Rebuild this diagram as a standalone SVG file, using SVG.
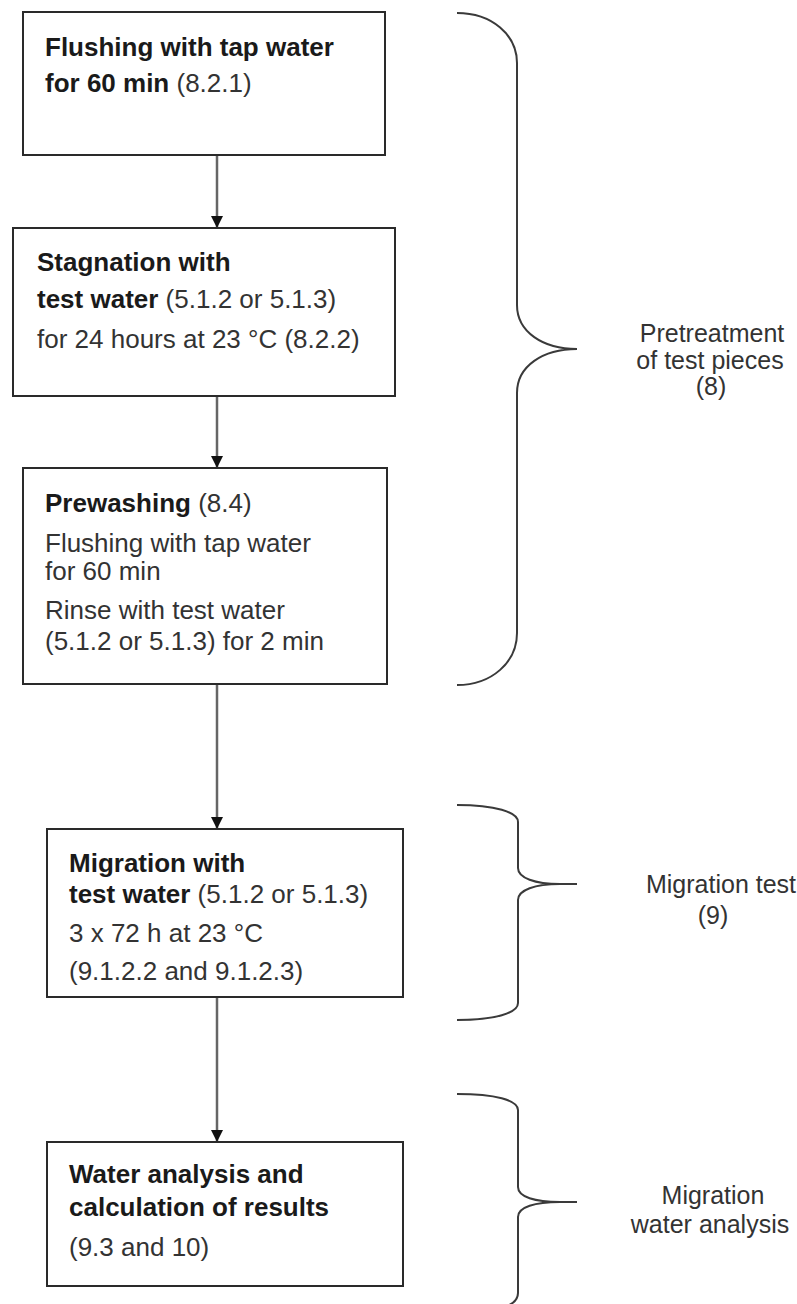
<svg xmlns="http://www.w3.org/2000/svg" width="797" height="1304" viewBox="0 0 797 1304">
<style>
.box{fill:#fff;stroke:#2a2a2a;stroke-width:2}
.t{font-family:"Liberation Sans",Arial,sans-serif;font-size:26px;fill:#333}
.b{font-weight:bold;fill:#1a1a1a}
.lab{font-family:"Liberation Sans",Arial,sans-serif;font-size:25px;fill:#333;text-anchor:middle}
.conn{stroke:#666;stroke-width:2.5;fill:none}
.brace{stroke:#3a3a3a;stroke-width:2;fill:none}
</style>
<defs>
<marker id="ah" viewBox="0 0 12 15" refX="12" refY="6" markerWidth="12" markerHeight="15" orient="auto" markerUnits="userSpaceOnUse">
<path d="M0,0 L12,6 L0,12 Z" fill="#111"/>
</marker>
</defs>
<rect width="797" height="1304" fill="#fff"/>
<g id="connectors">
<line class="conn" x1="217" y1="155" x2="217" y2="228" marker-end="url(#ah)"/>
<line class="conn" x1="217" y1="396" x2="217" y2="468" marker-end="url(#ah)"/>
<line class="conn" x1="217" y1="684" x2="217" y2="829" marker-end="url(#ah)"/>
<line class="conn" x1="217" y1="997" x2="217" y2="1142" marker-end="url(#ah)"/>
</g>
<g id="node1">
<rect class="box" x="23" y="12" width="362" height="143"/>
<text class="t b" x="45" y="56">Flushing with tap water</text>
<text class="t" x="45" y="92"><tspan class="b">for 60 min</tspan> (8.2.1)</text>
</g>
<g id="node2">
<rect class="box" x="13" y="228" width="382" height="168"/>
<text class="t b" x="37" y="271">Stagnation with</text>
<text class="t" x="37" y="308"><tspan class="b">test water</tspan> (5.1.2 or 5.1.3)</text>
<text class="t" x="37" y="348">for 24 hours at 23 °C (8.2.2)</text>
</g>
<g id="node3">
<rect class="box" x="23" y="468" width="364" height="216"/>
<text class="t" x="45" y="512"><tspan class="b">Prewashing</tspan> (8.4)</text>
<text class="t" x="45" y="552">Flushing with tap water</text>
<text class="t" x="45" y="580">for 60 min</text>
<text class="t" x="45" y="619">Rinse with test water</text>
<text class="t" x="45" y="650">(5.1.2 or 5.1.3) for 2 min</text>
</g>
<g id="node4">
<rect class="box" x="47" y="829" width="356" height="168"/>
<text class="t b" x="69" y="872">Migration with</text>
<text class="t" x="69" y="903"><tspan class="b">test water</tspan> (5.1.2 or 5.1.3)</text>
<text class="t" x="69" y="942">3 x 72 h at 23 °C</text>
<text class="t" x="69" y="980">(9.1.2.2 and 9.1.2.3)</text>
</g>
<g id="node5">
<rect class="box" x="47" y="1142" width="356" height="144"/>
<text class="t b" x="69" y="1183">Water analysis and</text>
<text class="t b" x="69" y="1216">calculation of results</text>
<text class="t" x="69" y="1256">(9.3 and 10)</text>
</g>
<g id="brace1">
<path class="brace" d="M457,13 C492,13 517,35 517,63 L517,305 C517,332 543,349 577,349 C543,349 517,366 517,393 L517,633 C517,662 492,685 457,685"/>
<text class="lab" x="712" y="342">Pretreatment</text>
<text class="lab" x="710" y="369">of test pieces</text>
<text class="lab" x="711" y="395">(8)</text>
</g>
<g id="brace2">
<path class="brace" d="M457,805 C495,805 518,812 518,822 L518,868 C518,878 535,884 560,884 L577,884 M560,884 C535,884 518,890 518,900 L518,1003 C518,1013 495,1020 457,1020"/>
<text class="lab" x="721" y="893">Migration test</text>
<text class="lab" x="713" y="924">(9)</text>
</g>
<g id="brace3">
<path class="brace" d="M457,1094 C495,1094 518,1100 518,1110 L518,1187 C518,1197 535,1202 560,1202 L577,1202 M560,1202 C535,1202 518,1207 518,1217 L518,1293 C518,1302 508,1307 495,1309"/>
<text class="lab" x="713" y="1204">Migration</text>
<text class="lab" x="710" y="1233">water analysis</text>
</g>
</svg>
